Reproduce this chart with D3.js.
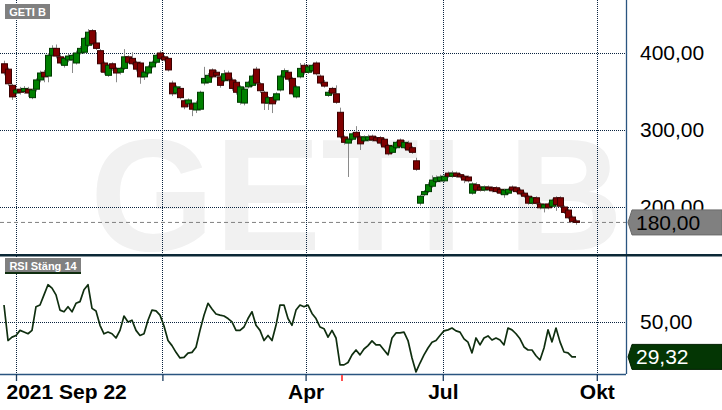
<!DOCTYPE html>
<html>
<head>
<meta charset="utf-8">
<script src="https://cdn.jsdelivr.net/npm/d3@7"></script>
<style>
body { margin: 0; background: #fff; }
svg text { font-family: "Liberation Sans", Arial, sans-serif; }
</style>
</head>
<body>
<script>
// daily candles, oldest first
const opens = [
	386, 379, 358, 348, 353, 350, 353, 342, 353, 365,
	375, 370, 397, 406, 395, 384, 391, 391, 387, 400,
	401, 410, 429, 413, 403, 387, 371, 386, 380, 375,
	380, 395, 393, 388, 387, 369, 374, 382, 388, 400,
	395, 393, 361, 348, 354, 338, 334, 334, 326, 327,
	361, 362, 378, 375, 369, 364, 374, 365, 362, 336,
	335, 356, 358, 379, 360, 349, 335, 342, 339, 352,
	369, 375, 367, 343, 369, 384, 375, 377, 387, 370,
	362, 345, 354, 347, 323, 291, 283, 288, 297, 291,
	286, 287, 292, 290, 290, 288, 280, 271, 277, 287,
	277, 283, 277, 260, 205, 216, 220, 227, 233, 234,
	234, 244, 240, 244, 242, 240, 239, 218, 229, 226,
	222, 226, 225, 225, 223, 216, 218, 226, 225, 222,
	218, 214, 205, 212, 204, 199, 204, 201, 212, 212,
	200, 196, 187, 182
]
const closes = [
	374, 360, 343, 352, 349, 354, 348, 352, 365, 374,
	369, 397, 406, 396, 387, 393, 396, 397, 400, 406,
	419, 427, 412, 406, 386, 375, 384, 380, 374, 380,
	395, 388, 386, 379, 369, 375, 382, 388, 397, 393,
	391, 378, 347, 356, 342, 330, 339, 327, 335, 349,
	367, 371, 369, 371, 358, 373, 365, 354, 349, 356,
	353, 362, 370, 361, 351, 335, 342, 334, 347, 370,
	377, 366, 347, 356, 380, 375, 382, 384, 373, 361,
	357, 349, 348, 336, 291, 284, 288, 295, 291, 282,
	291, 291, 287, 286, 283, 278, 269, 279, 284, 279,
	284, 274, 271, 249, 214, 220, 229, 235, 238, 239,
	240, 240, 244, 240, 239, 235, 234, 230, 222, 222,
	226, 223, 221, 220, 218, 222, 223, 222, 220, 217,
	214, 205, 212, 205, 199, 203, 199, 209, 203, 201,
	193, 186, 181, 180
]
const highs = [
	390, 381, 360, 355, 356, 357, 356, 354, 367, 377,
	378, 400, 410, 411, 398, 395, 399, 400, 403, 409,
	421, 431, 431, 427, 405, 389, 386, 388, 382, 382,
	405, 397, 401, 390, 389, 377, 384, 390, 400, 403,
	397, 395, 364, 358, 357, 340, 341, 336, 338, 351,
	382, 374, 380, 378, 371, 378, 377, 368, 365, 358,
	356, 364, 372, 382, 362, 351, 344, 344, 349, 372,
	380, 378, 369, 358, 387, 387, 385, 386, 389, 372,
	365, 352, 356, 358, 329, 293, 290, 297, 305, 293,
	293, 294, 294, 292, 292, 290, 282, 281, 286, 289,
	287, 286, 279, 264, 216, 222, 232, 241, 241, 242,
	243, 246, 247, 246, 244, 242, 241, 232, 232, 228,
	228, 228, 227, 227, 225, 224, 225, 228, 227, 224,
	220, 216, 214, 214, 206, 205, 206, 211, 214, 214,
	202, 198, 189, 184
]
const lows = [
	371, 357, 339, 345, 346, 347, 343, 340, 350, 362,
	362, 362, 395, 393, 385, 381, 388, 374, 385, 398,
	399, 408, 410, 404, 375, 372, 369, 377, 362, 372,
	378, 386, 384, 376, 360, 365, 372, 380, 386, 391,
	389, 376, 344, 346, 340, 327, 330, 318, 322, 325,
	358, 360, 367, 368, 355, 362, 363, 351, 346, 333,
	332, 354, 356, 359, 348, 326, 326, 322, 336, 350,
	367, 363, 345, 341, 367, 372, 373, 375, 371, 359,
	355, 343, 346, 334, 289, 281, 239, 286, 289, 274,
	284, 285, 285, 284, 280, 276, 267, 269, 275, 277,
	275, 272, 269, 247, 202, 214, 218, 225, 231, 232,
	232, 238, 238, 238, 237, 231, 232, 216, 220, 220,
	220, 221, 219, 218, 216, 212, 216, 220, 218, 215,
	212, 203, 203, 203, 197, 193, 197, 199, 195, 199,
	191, 184, 179, 177
]
const rsi = [
	60, 39, 41, 42, 45, 44, 43, 45, 59, 60,
	66, 72, 70, 66, 57, 56, 59, 56, 61, 62,
	69, 72, 58, 56.5, 48, 43, 44, 43, 40.5, 45,
	53.5, 50, 51, 45, 42, 43, 51, 57, 56.5, 54,
	47.6, 39, 36, 32, 28.7, 29, 31.5, 32, 35, 45,
	54, 61, 57.7, 54.7, 54, 53.5, 52, 50, 45, 45,
	47, 52, 56, 48, 45, 39, 42, 39, 48, 60,
	60, 52, 48, 57, 60, 59, 60, 55, 52, 47,
	46, 41, 45, 40.5, 24.6, 24.6, 26, 30.5, 33.4, 30.5,
	34, 36, 38.8, 36.4, 36.4, 33.4, 30.5, 40.5, 43.5, 43.5,
	44, 39, 28.7, 20.4, 25.7, 30.5, 34.6, 38, 39, 42,
	44.7, 45.3, 46.4, 44.7, 44, 40, 38, 31.7, 40.5, 36.4,
	40.5, 41.7, 39.3, 40.5, 39.3, 36.4, 46.4, 45.3, 43, 40,
	35.2, 33.4, 33.4, 30, 27.5, 34.6, 45.3, 38.2, 46.4, 38.2,
	32.2, 31.7, 29.3, 29.32
]

const priceTicks = [200, 300, 400]
const rsiTicks = [50]
const xTickIdx = [3, 39.6, 75.4, 109.7, 148.2]
const xTickLabels = ['2021 Sep 22', '', 'Apr', 'Jul', 'Okt']
const eventIdx = [84.5]
const lastPrice = 180
const lastRsi = 29.32
const ticker = 'GETI B'
const rsiTitle = 'RSI Stäng 14'

const width = 722
const height = 410
const plotRight = 626
const mainBottom = 254
const rsiTop = 256
const rsiBottom = 374
const candleW = 6
const fmt = d => d.toFixed(2).replace('.', ',')

const candles = opens.map((o, i) => ({ i, o, c: closes[i], h: highs[i], l: lows[i] }))

const x = d3.scaleLinear().domain([0, candles.length - 1]).range([4, 576])
const y = d3.scaleLinear().domain([139, 468.8]).range([mainBottom, 0])
const yr = d3.scaleLinear().domain([19.2, 89]).range([rsiBottom, rsiTop])

const svg = d3.select('body')
	.append('svg')
	.attr('width', width)
	.attr('height', height)

svg.append('defs').append('clipPath')
	.attr('id', 'mainClip')
	.append('rect')
	.attr('width', plotRight)
	.attr('height', mainBottom)

// watermark
svg.append('text')
	.attr('x', 90)
	.attr('y', 250)
	.attr('font-size', 160)
	.attr('font-weight', 'bold')
	.attr('fill', '#f1f1f1')
	.attr('clip-path', 'url(#mainClip)')
	.text(ticker)

// grid
const grid = svg.append('g')
	.attr('stroke', '#0a2440')
	.attr('stroke-dasharray', '1,1')

grid.selectAll('.hgrid')
	.data(priceTicks)
	.enter()
	.append('line')
	.attr('x1', 0)
	.attr('x2', plotRight)
	.attr('y1', d => Math.round(y(d)) + 0.5)
	.attr('y2', d => Math.round(y(d)) + 0.5)

grid.selectAll('.rgrid')
	.data(rsiTicks)
	.enter()
	.append('line')
	.attr('x1', 0)
	.attr('x2', plotRight)
	.attr('y1', d => Math.round(yr(d)) + 0.5)
	.attr('y2', d => Math.round(yr(d)) + 0.5)

grid.selectAll('.vgrid')
	.data(xTickIdx.filter(d => x(d) < plotRight))
	.enter()
	.append('line')
	.attr('x1', d => Math.round(x(d)) + 0.5)
	.attr('x2', d => Math.round(x(d)) + 0.5)
	.attr('y1', 0)
	.attr('y2', rsiBottom)

// last price line
svg.append('line')
	.attr('x1', 0)
	.attr('x2', plotRight)
	.attr('y1', y(lastPrice))
	.attr('y2', y(lastPrice))
	.attr('stroke', '#808080')
	.attr('stroke-dasharray', '4,3')

// candles
const cg = svg.append('g').attr('clip-path', 'url(#mainClip)')

cg.selectAll('.wick')
	.data(candles)
	.enter()
	.append('line')
	.attr('x1', d => Math.round(x(d.i)) + 0.5)
	.attr('x2', d => Math.round(x(d.i)) + 0.5)
	.attr('y1', d => y(d.h))
	.attr('y2', d => y(d.l))
	.attr('stroke', '#8a8a8a')

cg.selectAll('.body')
	.data(candles)
	.enter()
	.append('rect')
	.attr('x', d => Math.round(x(d.i)) - candleW / 2 + 0.5)
	.attr('y', d => y(Math.max(d.o, d.c)))
	.attr('width', candleW)
	.attr('height', d => Math.max(1, Math.abs(y(d.o) - y(d.c))))
	.attr('fill', d => d.c >= d.o ? '#008000' : '#800000')
	.attr('stroke', d => d.c >= d.o ? '#003a00' : '#3a0000')

// RSI line
svg.append('path')
	.datum(rsi)
	.attr('d', d3.line().x((d, i) => x(i)).y(d => yr(d)))
	.attr('fill', 'none')
	.attr('stroke', '#0f2e0f')
	.attr('stroke-width', 1.7)
	.attr('stroke-linejoin', 'round')

// frame lines
svg.append('line')
	.attr('x1', plotRight + 0.5).attr('x2', plotRight + 0.5)
	.attr('y1', 0).attr('y2', rsiBottom)
	.attr('stroke', '#2a5580')
	.attr('stroke-width', 1.3)

svg.append('line')
	.attr('x1', 0).attr('x2', plotRight)
	.attr('y1', rsiBottom + 0.5).attr('y2', rsiBottom + 0.5)
	.attr('stroke', '#2a5580')
	.attr('stroke-width', 1.3)

svg.append('line')
	.attr('x1', 0).attr('x2', width)
	.attr('y1', 255.3).attr('y2', 255.3)
	.attr('stroke', '#0b2836')
	.attr('stroke-width', 2.5)

// right axis labels
const yAxis = d3.axisRight(y).tickValues(priceTicks).tickSize(0).tickPadding(14).tickFormat(fmt)
const rAxis = d3.axisRight(yr).tickValues(rsiTicks).tickSize(0).tickPadding(14).tickFormat(fmt)

;[yAxis, rAxis].forEach(ax => {
	const g = svg.append('g')
		.attr('transform', `translate(${plotRight},0)`)
		.call(ax)
	g.select('.domain').remove()
	g.selectAll('text')
		.attr('font-size', 21)
		.attr('font-family', '"Liberation Sans", Arial, sans-serif')
		.attr('fill', '#000')
})

// value tags
const tag = (v, scale, fill, stroke, color) => {
	const cy = scale(v)
	svg.append('path')
		.attr('d', `M${plotRight + 2},${cy} L${plotRight + 6},${cy - 12.5} L${width},${cy - 12.5} L${width},${cy + 12.5} L${plotRight + 6},${cy + 12.5} Z`)
		.attr('fill', fill)
		.attr('stroke', stroke)
	svg.append('text')
		.attr('x', plotRight + 10)
		.attr('y', cy)
		.attr('dy', '0.36em')
		.attr('font-size', 21)
		.attr('fill', color)
		.text(fmt(v))
}
tag(lastPrice, y, '#808080', '#6a6a6a', '#000')
tag(lastRsi, yr, '#043604', '#022002', '#fff')

// x axis
const xAxis = d3.axisBottom(x)
	.tickValues(xTickIdx)
	.tickSize(7)
	.tickPadding(3)
	.tickFormat((d, i) => xTickLabels[i])

const xg = svg.append('g')
	.attr('transform', `translate(0,${rsiBottom})`)
	.call(xAxis)
xg.select('.domain').remove()
xg.selectAll('line').attr('stroke', '#1a3c60').attr('stroke-width', 1.3)
xg.selectAll('text')
	.attr('font-size', 21)
	.attr('font-weight', 'bold')
	.attr('font-family', '"Liberation Sans", Arial, sans-serif')
	.attr('fill', '#000')
xg.selectAll('text').filter((d, i) => i === 0)
	.attr('text-anchor', 'start')
	.attr('x', 6 - x(xTickIdx[0]))

// event marker
svg.selectAll('.event')
	.data(eventIdx)
	.enter()
	.append('line')
	.attr('x1', d => x(d)).attr('x2', d => x(d))
	.attr('y1', rsiBottom + 1).attr('y2', rsiBottom + 7)
	.attr('stroke', '#ff5050')
	.attr('stroke-width', 2)

// panel titles
const title = (tx, ty, w, label, underline) => {
	svg.append('rect')
		.attr('x', tx).attr('y', ty)
		.attr('width', w).attr('height', 15)
		.attr('fill', '#808080')
	if (underline) {
		svg.append('rect')
			.attr('x', tx).attr('y', ty + 14)
			.attr('width', w).attr('height', 2)
			.attr('fill', underline)
	}
	svg.append('text')
		.attr('x', tx + w / 2)
		.attr('y', ty + 12)
		.attr('text-anchor', 'middle')
		.attr('font-size', 11)
		.attr('font-weight', 'bold')
		.attr('fill', '#fff')
		.text(label)
}
title(5, 4, 45, ticker, null)
title(5, 258, 76, rsiTitle, '#0f2e0f')
</script>
</body>
</html>
